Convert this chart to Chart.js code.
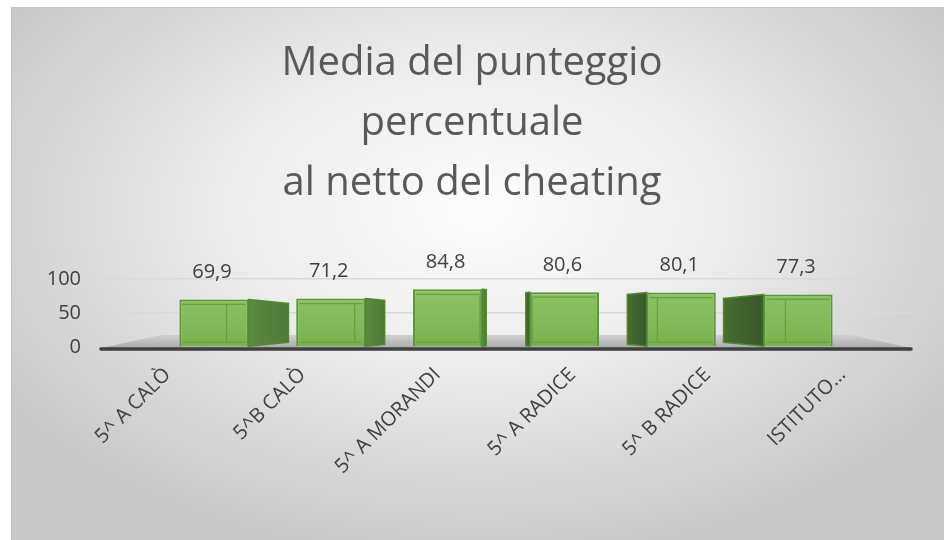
<!DOCTYPE html>
<html>
<head>
<meta charset="utf-8">
<script src="https://cdn.jsdelivr.net/npm/chart.js@4.4.0/dist/chart.umd.min.js"></script>
<style>
    html, body { margin: 0; padding: 0; background: #ffffff; overflow: hidden; }
    #frame {
        position: absolute;
        left: 11px;
        top: 7px;
        width: 933px;
        height: 533px;
        box-sizing: border-box;
        border-top: 1px solid #c4c4c4;
        border-left: 1px solid #c4c4c4;
        background: radial-gradient(ellipse 60% 65% at 50% 38%, #fdfdfd 0%, #ececec 45%, #d2d2d2 85%, #c8c8c8 100%);
    }
    #chartBox { position: absolute; left: -6px; top: 0; width: 932px; height: 532px; }
</style>
</head>
<body>
<div id="frame">
    <div id="chartBox"><canvas id="scoreChart"></canvas></div>
</div>
<script>
// Data
const categories = ['5^ A CALÒ', '5^B CALÒ', '5^ A MORANDI', '5^ A RADICE', '5^ B RADICE', 'ISTITUTO…'];
const scores = [69.9, 71.2, 84.8, 80.6, 80.1, 77.3];
const yTicks = [0, 50, 100];

const textColor = '#404040';
const fontFamily = "'Open Sans', 'DejaVu Sans', sans-serif";

// side depth of a bar, growing with its distance from the middle (fake perspective)
function sideDepth(chart, bar) {
    const mid = chart.scales.x.getPixelForValue((categories.length - 1) / 2);
    const off = bar.x - mid;
    return -Math.sign(off) * 0.0126 * Math.pow(Math.abs(off), 1.42);
}

// Floor, side faces and value labels
const bar3d = {
    id: 'bar3d',
    beforeDatasetsDraw(chart) {
        const ctx = chart.ctx;
        const area = chart.chartArea;
        const y0 = chart.scales.y.getPixelForValue(0);

        // grey floor
        ctx.save();
        const floorGrad = ctx.createLinearGradient(0, y0 - 12, 0, y0 + 2);
        floorGrad.addColorStop(0, '#cfcfcf');
        floorGrad.addColorStop(1, '#a8a8a8');
        ctx.fillStyle = floorGrad;
        ctx.beginPath();
        ctx.moveTo(area.left, y0 + 1);
        ctx.lineTo(area.right, y0 + 1);
        ctx.lineTo(area.right - 60, y0 - 12);
        ctx.lineTo(area.left + 60, y0 - 12);
        ctx.closePath();
        ctx.fill();
        ctx.strokeStyle = '#3f3f3f';
        ctx.lineWidth = 3.5;
        ctx.lineCap = 'round';
        ctx.beginPath();
        ctx.moveTo(area.left, y0 + 2);
        ctx.lineTo(area.right, y0 + 2);
        ctx.stroke();

        // side faces
        const meta = chart.getDatasetMeta(0);
        meta.data.forEach(bar => {
            const half = bar.width / 2;
            const depth = sideDepth(chart, bar);
            const edge = depth > 0 ? bar.x + half : bar.x - half;
            const shrink = Math.min(Math.abs(depth) * 0.1, 4);
            const g = ctx.createLinearGradient(edge, 0, edge + depth, 0);
            if (depth > 0) {
                g.addColorStop(0, '#5d8a40');
                g.addColorStop(1, '#4f7837');
            } else {
                g.addColorStop(0, '#3a5a2a');
                g.addColorStop(1, '#476c32');
            }
            ctx.fillStyle = g;
            ctx.strokeStyle = '#4e8a2c';
            ctx.lineWidth = 1.5;
            ctx.beginPath();
            ctx.moveTo(edge, bar.y);
            ctx.lineTo(edge + depth, bar.y + shrink);
            ctx.lineTo(edge + depth, bar.base - shrink);
            ctx.lineTo(edge, bar.base);
            ctx.closePath();
            ctx.fill();
            ctx.stroke();
        });
        ctx.restore();
    },
    afterDatasetsDraw(chart) {
        const ctx = chart.ctx;
        const meta = chart.getDatasetMeta(0);
        ctx.save();
        // inner edges seen through the front face
        meta.data.forEach(bar => {
            const half = bar.width / 2;
            const depth = sideDepth(chart, bar);
            ctx.strokeStyle = 'rgba(95,155,55,0.8)';
            ctx.lineWidth = 1.2;
            ctx.beginPath();
            ctx.moveTo(bar.x - half + 3, bar.y + 5);
            ctx.lineTo(bar.x + half - 3, bar.y + 5);
            ctx.moveTo(bar.x - half + 3, bar.base - 4);
            ctx.lineTo(bar.x + half - 3, bar.base - 4);
            const innerX = bar.x + (depth > 0 ? half - depth * 0.55 : -half - depth * 0.55);
            ctx.moveTo(innerX, bar.y + 5);
            ctx.lineTo(innerX, bar.base - 4);
            ctx.stroke();
        });
        // value labels
        ctx.fillStyle = textColor;
        ctx.font = "20px " + fontFamily;
        ctx.textAlign = 'center';
        ctx.textBaseline = 'middle';
        meta.data.forEach((bar, i) => {
            ctx.fillText(String(scores[i]).replace('.', ','), bar.x - 2, bar.y - 27);
        });
        ctx.restore();
    }
};

const ctx = document.getElementById('scoreChart').getContext('2d');
new Chart(ctx, {
    type: 'bar',
    data: {
        labels: categories,
        datasets: [{
            data: scores.map((v, i) => ({ x: i, y: v })),
            xAxisID: 'x',
            yAxisID: 'y',
            backgroundColor: function(context) {
                const chart = context.chart;
                const area = chart.chartArea;
                if (!area) return '#84bb5c';
                const g = chart.ctx.createLinearGradient(0, area.top, 0, area.bottom);
                g.addColorStop(0, '#90c66a');
                g.addColorStop(1, '#7ab250');
                return g;
            },
            borderColor: '#5a9636',
            borderWidth: 2,
            barPercentage: 0.9,
            categoryPercentage: 0.68
        }]
    },
    options: {
        responsive: true,
        maintainAspectRatio: false,
        animation: false,
        layout: { padding: 0 },
        plugins: {
            legend: { display: false },
            tooltip: { enabled: false },
            title: {
                display: true,
                text: ['Media del punteggio', 'percentuale', 'al netto del cheating'],
                color: '#595959',
                font: { family: fontFamily, size: 40, weight: 'normal', lineHeight: 1.5 },
                padding: { top: 26, bottom: 65 }
            }
        },
        scales: {
            // bars sit on a narrower back row than the labels (3D look)
            x: {
                type: 'linear',
                display: false,
                offset: false,
                grid: { offset: false },
                min: -0.967,
                max: 5.967
            },
            labels: {
                type: 'category',
                position: 'bottom',
                offset: true,
                grid: { display: false },
                border: { display: false },
                afterFit: axis => { axis.height = 193; },
                ticks: {
                    color: textColor,
                    font: { family: fontFamily, size: 20 },
                    maxRotation: 45,
                    minRotation: 45,
                    labelOffset: -1,
                    padding: 8
                }
            },
            y: {
                min: 0,
                max: 100,
                afterFit: axis => { axis.width = 95; },
                afterBuildTicks: axis => {
                    axis.ticks = yTicks.map(v => ({ value: v }));
                },
                grid: { color: '#d9d9d9', lineWidth: 1.5, drawTicks: false },
                border: { display: false },
                ticks: {
                    color: textColor,
                    font: { family: fontFamily, size: 20 },
                    padding: 20
                }
            },
            right: {
                type: 'linear',
                position: 'right',
                grid: { display: false },
                border: { display: false },
                ticks: { display: false },
                afterFit: axis => { axis.width = 27; }
            }
        }
    },
    plugins: [bar3d]
});
</script>
</body>
</html>
